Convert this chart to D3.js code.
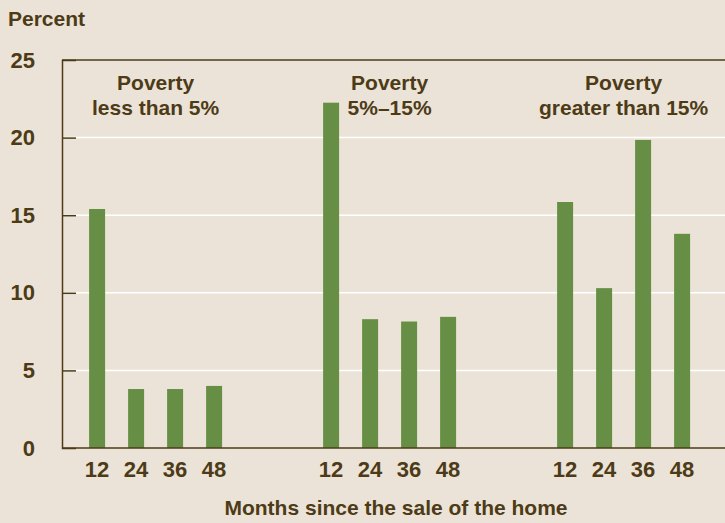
<!DOCTYPE html>
<html>
<head>
<meta charset="utf-8">
<script src="https://cdn.jsdelivr.net/npm/d3@7"></script>
<style>
  body { margin: 0; background: #ebe3d7; }
  text { font-family: "Liberation Sans", Arial, sans-serif; font-weight: bold; fill: #4d3b17; }
</style>
</head>
<body>
<div class="canvas"></div>
<script>
// data
const groups = [['Poverty', 'less than 5%'], ['Poverty', '5%\u201315%'], ['Poverty', 'greater than 15%']];
const months = ['12', '24', '36', '48'];
const values = [
    [15.4, 3.8, 3.8, 4.0],
    [22.25, 8.3, 8.15, 8.45],
    [15.85, 10.3, 19.85, 13.8]
];
const yTicks = [0, 5, 10, 15, 20, 25];

const width = 725, height = 523;
const margin = { top: 60, right: 0, bottom: 75, left: 62 };
const graphWidth = width - margin.left - margin.right;
const graphHeight = height - margin.top - margin.bottom;

const svg = d3.select('.canvas')
    .append('svg')
    .attr('width', width)
    .attr('height', height);

svg.append('rect').attr('width', width).attr('height', height).attr('fill', '#ebe3d7');

const graph = svg.append('g')
    .attr('transform', `translate(${margin.left}, ${margin.top})`);

// slots: 4 bars per group, groups 6 slots apart
const x = d3.scaleLinear().domain([0, 17]).range([0, graphWidth]);
const slot = (g, i) => 0.9 + 6 * g + i;
const y = d3.scaleLinear().domain([0, 25]).range([graphHeight, 0]);
const barW = 16;

// white gridlines
graph.selectAll('.grid')
    .data(yTicks.filter(d => d > 0 && d < 25))
    .enter().append('line')
    .attr('x1', 0).attr('x2', graphWidth)
    .attr('y1', d => y(d)).attr('y2', d => y(d))
    .attr('stroke', '#fff').attr('stroke-width', 1.5);

// bars
const flat = [];
values.forEach((vals, g) => vals.forEach((v, i) => flat.push({ g, i, v })));
graph.selectAll('.bar')
    .data(flat)
    .enter().append('rect')
    .attr('x', d => x(slot(d.g, d.i)) - barW / 2)
    .attr('width', barW)
    .attr('y', d => y(d.v))
    .attr('height', d => graphHeight - y(d.v))
    .attr('fill', '#668f45');

// y axis with short inner ticks
const yAxis = d3.axisLeft(y).tickValues(yTicks).tickSize(-14).tickPadding(27);
const yAxisGroup = graph.append('g').call(yAxis);
yAxisGroup.select('.domain').attr('stroke', '#4d3b17').attr('stroke-width', 1.5);
yAxisGroup.selectAll('.tick line').attr('stroke', '#4d3b17').attr('stroke-width', 1.5)
    .filter(d => d === 0 || d === 25).remove();
yAxisGroup.selectAll('text').attr('font-size', 22).attr('fill', '#4d3b17')
    .attr('font-family', '"Liberation Sans", Arial, sans-serif');

// top and bottom frame lines
[0, graphHeight].forEach(py => graph.append('line')
    .attr('x1', 0).attr('x2', graphWidth).attr('y1', py).attr('y2', py)
    .attr('stroke', '#4d3b17').attr('stroke-width', 1.5));

// month labels
graph.selectAll('.month')
    .data(flat)
    .enter().append('text')
    .attr('x', d => x(slot(d.g, d.i)))
    .attr('y', graphHeight + 29)
    .attr('text-anchor', 'middle')
    .attr('font-size', 22)
    .text(d => months[d.i]);

// group labels
groups.forEach((lines, g) => {
    const cx = x(slot(g, 1.5));
    lines.forEach((t, k) => graph.append('text')
        .attr('x', cx).attr('y', 30 + k * 25)
        .attr('text-anchor', 'middle')
        .attr('font-size', 21)
        .text(t));
});

svg.append('text').attr('x', 8).attr('y', 26).attr('font-size', 21).text('Percent');
svg.append('text').attr('x', 396).attr('y', 515).attr('text-anchor', 'middle')
    .attr('font-size', 21).text('Months since the sale of the home');
</script>
</body>
</html>
